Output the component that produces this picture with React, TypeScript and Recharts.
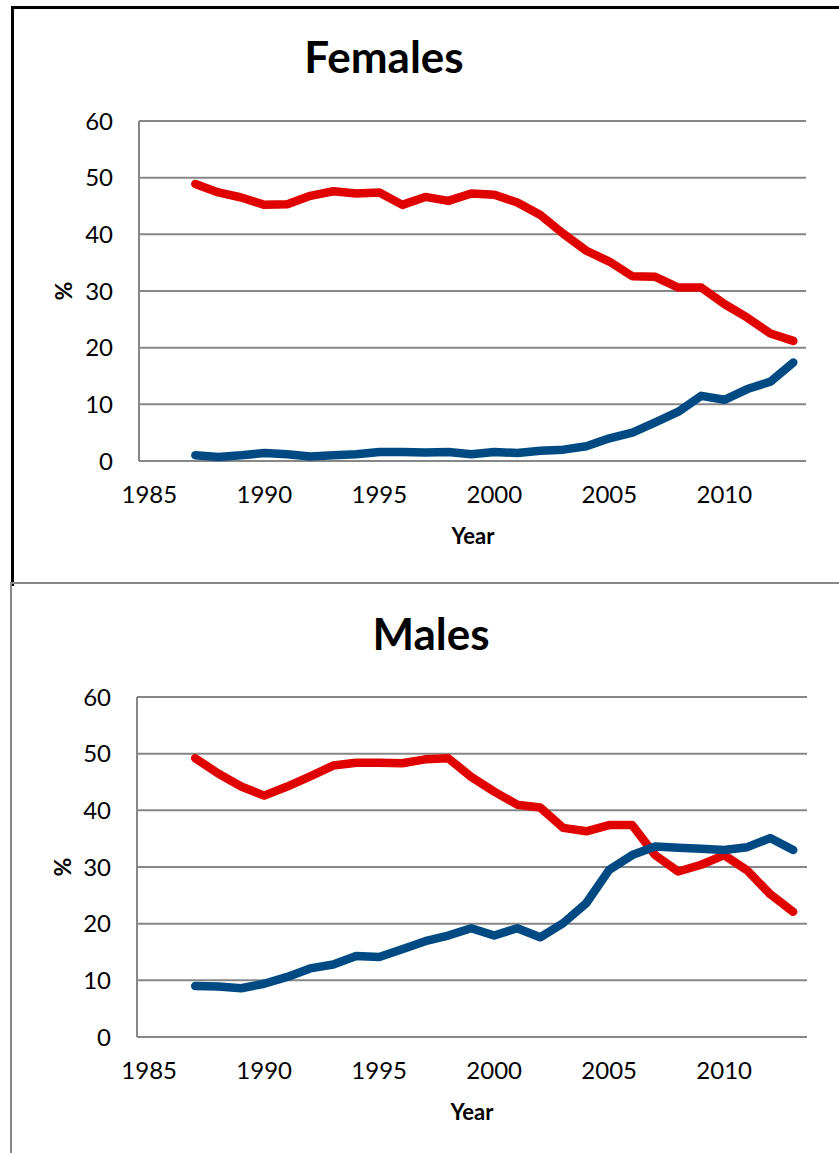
import React from 'react'
import { LineChart, Line, XAxis, YAxis, CartesianGrid } from 'recharts'

const years = [
  1987, 1988, 1989, 1990, 1991, 1992, 1993, 1994, 1995, 1996, 1997, 1998, 1999,
  2000, 2001, 2002, 2003, 2004, 2005, 2006, 2007, 2008, 2009, 2010, 2011, 2012, 2013,
]

const femalesRed = [
  48.9, 47.4, 46.5, 45.2, 45.3, 46.8, 47.6, 47.2, 47.4, 45.2, 46.6, 45.9, 47.2,
  47.0, 45.6, 43.4, 40.1, 37.1, 35.2, 32.6, 32.5, 30.6, 30.6, 27.7, 25.3, 22.5, 21.2,
]
const femalesBlue = [
  1.0, 0.7, 1.0, 1.4, 1.2, 0.8, 1.0, 1.2, 1.6, 1.6, 1.5, 1.6, 1.2,
  1.6, 1.4, 1.8, 2.0, 2.6, 4.0, 5.0, 6.8, 8.7, 11.5, 10.8, 12.7, 14.0, 17.4,
]
const malesRed = [
  49.2, 46.5, 44.2, 42.6, 44.2, 46.0, 47.9, 48.4, 48.4, 48.3, 49.0, 49.2, 45.9,
  43.3, 41.0, 40.5, 36.9, 36.3, 37.4, 37.4, 32.1, 29.2, 30.4, 32.1, 29.4, 25.2, 22.1,
]
const malesBlue = [
  9.0, 8.9, 8.6, 9.4, 10.6, 12.1, 12.8, 14.3, 14.1, 15.5, 16.9, 17.9, 19.2,
  17.9, 19.2, 17.6, 20.1, 23.6, 29.5, 32.1, 33.6, 33.4, 33.2, 33.0, 33.5, 35.1, 33.0,
]

const xTicks = [1985, 1990, 1995, 2000, 2005, 2010]
const yTicks = [0, 10, 20, 30, 40, 50, 60]

const RED = '#e00000'
const BLUE = '#004a84'
const GRID = '#878787'
const FONT = 'Lato, "Open Sans", sans-serif'

function buildRows(red: number[], blue: number[]) {
  return years.map((year, i) => ({ year, red: red[i], blue: blue[i] }))
}

interface PanelProps {
  top: number
  height: number
  plotTop: number
  plotLeft: number
  plotRight: number
  domain: [number, number]
  red: number[]
  blue: number[]
}

function Panel({ top, height, plotTop, plotLeft, plotRight, domain, red, blue }: PanelProps) {
  const data = buildRows(red, blue)
  const plotH = 340
  return (
    <div style={{ position: 'absolute', left: 0, top, width: 839, height }}>
      <LineChart
        width={839}
        height={height}
        data={data}
        margin={{ top: plotTop, right: 839 - plotRight, left: plotLeft - 60, bottom: height - plotTop - plotH - 30 }}
      >
        <CartesianGrid vertical={false} stroke={GRID} strokeWidth={2} />
        <XAxis
          dataKey="year"
          type="number"
          domain={domain}
          ticks={xTicks}
          allowDataOverflow
          axisLine={false}
          tickLine={false}
          tickSize={0}
          tickMargin={25}
          height={30}
          tick={{ fontSize: 24, fill: '#000', fontFamily: FONT }}
        />
        <YAxis
          type="number"
          domain={[0, 60]}
          ticks={yTicks}
          width={60}
          axisLine={{ stroke: GRID, strokeWidth: 2 }}
          tickLine={false}
          tickSize={0}
          tickMargin={26}
          tick={{ fontSize: 24, fill: '#000', fontFamily: FONT }}
        />
        <Line
          type="linear"
          dataKey="red"
          stroke={RED}
          strokeWidth={8.5}
          strokeLinecap="round"
          strokeLinejoin="round"
          dot={false}
          isAnimationActive={false}
        />
        <Line
          type="linear"
          dataKey="blue"
          stroke={BLUE}
          strokeWidth={8.5}
          strokeLinecap="round"
          strokeLinejoin="round"
          dot={false}
          isAnimationActive={false}
        />
      </LineChart>
    </div>
  )
}

const textBase: React.CSSProperties = {
  position: 'absolute',
  fontFamily: FONT,
  fontWeight: 700,
  color: '#000',
  whiteSpace: 'nowrap',
  textAlign: 'center',
}

function Title({ text, cx, top }: { text: string; cx: number; top: number }) {
  return (
    <div style={{ ...textBase, left: cx - 150, top, width: 300, fontSize: 44, lineHeight: '44px' }}>
      {text}
    </div>
  )
}

function AxisTitle({ text, cx, top }: { text: string; cx: number; top: number }) {
  return (
    <div style={{ ...textBase, left: cx - 50, top, width: 100, fontSize: 22, lineHeight: '22px' }}>
      {text}
    </div>
  )
}

function YTitle({ cx, cy }: { cx: number; cy: number }) {
  return (
    <div
      style={{
        ...textBase,
        left: cx - 20,
        top: cy - 12,
        width: 40,
        fontSize: 23,
        lineHeight: '24px',
        transform: 'rotate(-90deg)',
      }}
    >
      %
    </div>
  )
}

export default function App() {
  return (
    <div style={{ position: 'absolute', left: 0, top: 0, width: 839, height: 1153, overflow: 'hidden', background: '#fff' }}>
      {/* top panel frame */}
      <div
        style={{
          position: 'absolute',
          left: 11,
          top: 6,
          width: 900,
          height: 577,
          borderLeft: '3px solid #000',
          borderTop: '3px solid #000',
        }}
      />
      {/* bottom panel frame */}
      <div
        style={{
          position: 'absolute',
          left: 10,
          top: 582,
          width: 900,
          height: 600,
          borderLeft: '2px solid #888',
          borderTop: '2px solid #888',
        }}
      />

      <Panel
        top={0}
        height={583}
        plotTop={121}
        plotLeft={139}
        plotRight={806}
        domain={[1984.55, 2013.55]}
        red={femalesRed}
        blue={femalesBlue}
      />
      <Title text="Females" cx={384} top={34} />
      <AxisTitle text="Year" cx={473} top={525} />
      <YTitle cx={63} cy={291} />

      <Panel
        top={583}
        height={570}
        plotTop={114}
        plotLeft={137}
        plotRight={807}
        domain={[1984.47, 2013.6]}
        red={malesRed}
        blue={malesBlue}
      />
      <Title text="Males" cx={431} top={611} />
      <AxisTitle text="Year" cx={472} top={1101} />
      <YTitle cx={62} cy={867} />
    </div>
  )
}
